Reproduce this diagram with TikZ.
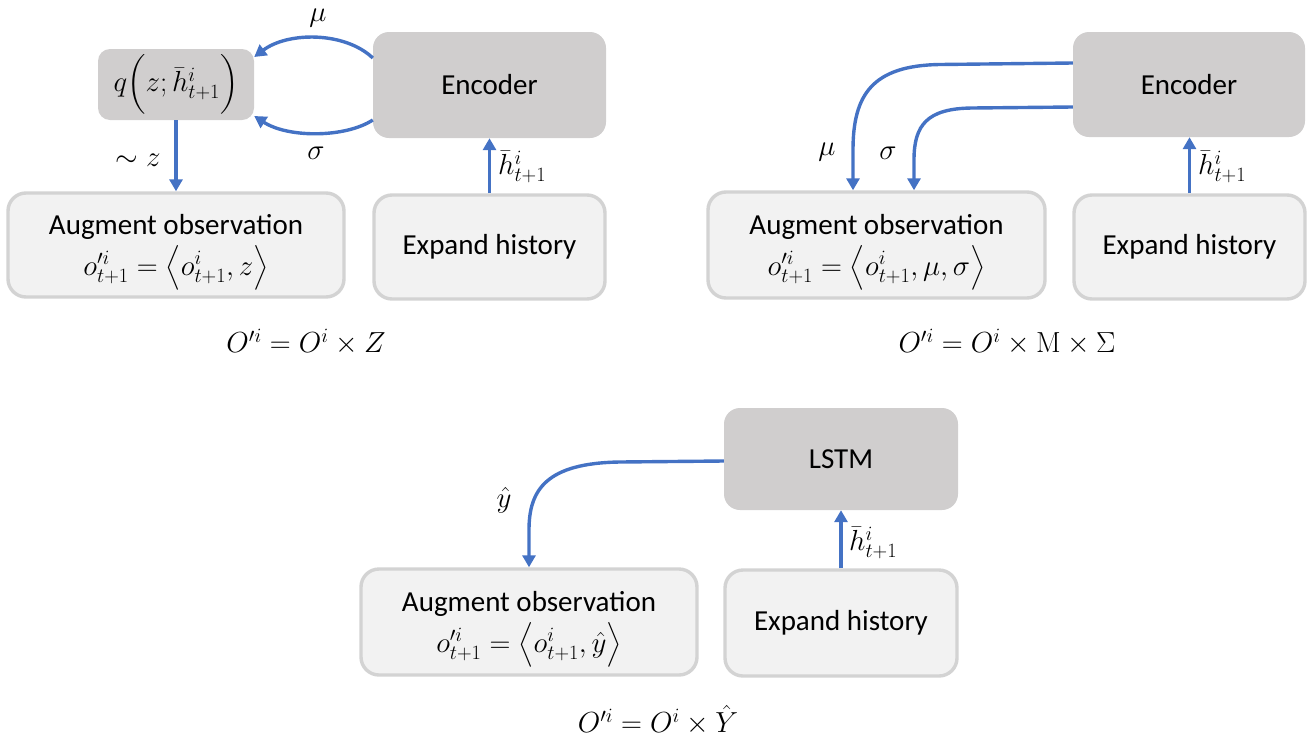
\RequirePackage{fix-cm}
\documentclass[tikz,border=0pt]{standalone}
\usepackage{amsmath}
\usepackage{fontspec}
\newfontfamily\calibri{Carlito}
\usetikzlibrary{arrows.meta}
\definecolor{boxdark}{HTML}{D0CECE}
\definecolor{boxlight}{HTML}{F2F2F2}
\definecolor{boxedge}{HTML}{D3D3D3}
\definecolor{flow}{HTML}{4472C4}
\newcommand\diagfont{\fontsize{29}{37}\selectfont}
\newcommand\toprow{\rule{0pt}{35pt}}
\tikzset{
  darkbox/.style={fill=boxdark, rounded corners=16pt, inner sep=0pt, font=\diagfont\calibri, align=center},
  lightbox/.style={fill=boxlight, draw=boxedge, line width=3.4pt, rounded corners=18pt, inner sep=0pt, font=\diagfont\calibri, align=center},
  flowarrow/.style={draw=flow, line width=3.4pt, -{Triangle[length=12pt,width=13pt]}},
  mathlabel/.style={font=\diagfont, inner sep=0pt},
}
\begin{document}
\begin{tikzpicture}[x=1pt, y=-1pt]
\useasboundingbox (0,0) rectangle (1312,737);

% ---- sampled latent variable ----
\node[darkbox, rounded corners=12pt, minimum width=156pt, minimum height=71pt] (qbox) at (176,84.5) {$q\Bigl(z;\bar{h}^{i}_{t+1}\Bigr)$};
\node[darkbox, minimum width=233pt, minimum height=106pt] (enc1) at (489.5,85) {Encoder};
\node[lightbox, minimum width=336pt, minimum height=104pt] (aug1) at (176,245) {\toprow Augment observation\\[4pt] $o'^{i}_{t+1}=\bigl\langle o^{i}_{t+1},z\bigr\rangle$};
\node[lightbox, minimum width=231pt, minimum height=104pt] (exp1) at (489.5,247) {Expand history};

\draw[flowarrow] ([yshift=27pt]enc1.west) .. controls (345,31.5) and (288,31.5) .. ([yshift=27.5pt]qbox.east);
\draw[flowarrow] ([yshift=-35pt]enc1.west) .. controls (345,138) and (288,138) .. ([yshift=-31.5pt]qbox.east);
\draw[flowarrow] (qbox.south) -- (aug1.north);
\draw[flowarrow] (exp1.north) -- (enc1.south);

\node[mathlabel] (mu1) at (318,18) {$\mu$};
\node[mathlabel] (sg1) at (316,153) {$\sigma$};
\node[mathlabel] (z1) at (138,160) {$\sim z$};
\node[mathlabel, anchor=west] (h1) at (498,167) {$\bar{h}^{i}_{t+1}$};
\node[mathlabel] (f1) at (306,342) {$O'^{i}=O^{i}\times Z$};

% ---- mean and deviation ----
\node[darkbox, minimum width=232pt, minimum height=105pt] (enc2) at (1189,84.5) {Encoder};
\node[lightbox, minimum width=337pt, minimum height=106pt] (aug2) at (876.5,245) {\toprow Augment observation\\[4pt] $o'^{i}_{t+1}=\bigl\langle o^{i}_{t+1},\mu,\sigma\bigr\rangle$};
\node[lightbox, minimum width=231pt, minimum height=104pt] (exp2) at (1189.5,247) {Expand history};

\draw[flowarrow] ([yshift=21.5pt]enc2.west) -- (940,64.5) .. controls (872,65.5) and (853,95) .. (853,150) -- ([xshift=-23.5pt]aug2.north);
\draw[flowarrow] ([yshift=-22.5pt]enc2.west) -- (972,108) .. controls (927,108.5) and (914,125) .. (914,160) -- ([xshift=37.5pt]aug2.north);
\draw[flowarrow] (exp2.north) -- (exp2.north |- enc2.south);

\node[mathlabel] (mu2) at (827,152) {$\mu$};
\node[mathlabel] (sg2) at (888,153) {$\sigma$};
\node[mathlabel, anchor=west] (h2) at (1198,167) {$\bar{h}^{i}_{t+1}$};
\node[mathlabel] (f2) at (1007,342) {$O'^{i}=O^{i}\times \mathrm{M}\times\Sigma$};

% ---- recurrent prediction ----
\node[darkbox, minimum width=234pt, minimum height=102pt] (lstm) at (841,459) {LSTM};
\node[lightbox, minimum width=336pt, minimum height=106pt] (aug3) at (529,622) {\toprow Augment observation\\[4pt] $o'^{i}_{t+1}=\bigl\langle o^{i}_{t+1},\hat{y}\bigr\rangle$};
\node[lightbox, minimum width=232pt, minimum height=106pt] (exp3) at (841,623) {Expand history};

\draw[flowarrow] ([yshift=-2pt]lstm.west) -- (620,462) .. controls (546,463) and (529,490) .. (529,530) -- (aug3.north);
\draw[flowarrow] (exp3.north) -- (lstm.south);

\node[mathlabel] (y3) at (504,500) {$\hat{y}$};
\node[mathlabel, anchor=west] (h3) at (849,543) {$\bar{h}^{i}_{t+1}$};
\node[mathlabel] (f3) at (658,720) {$O'^{i}=O^{i}\times\hat{Y}$};
\end{tikzpicture}
\end{document}
